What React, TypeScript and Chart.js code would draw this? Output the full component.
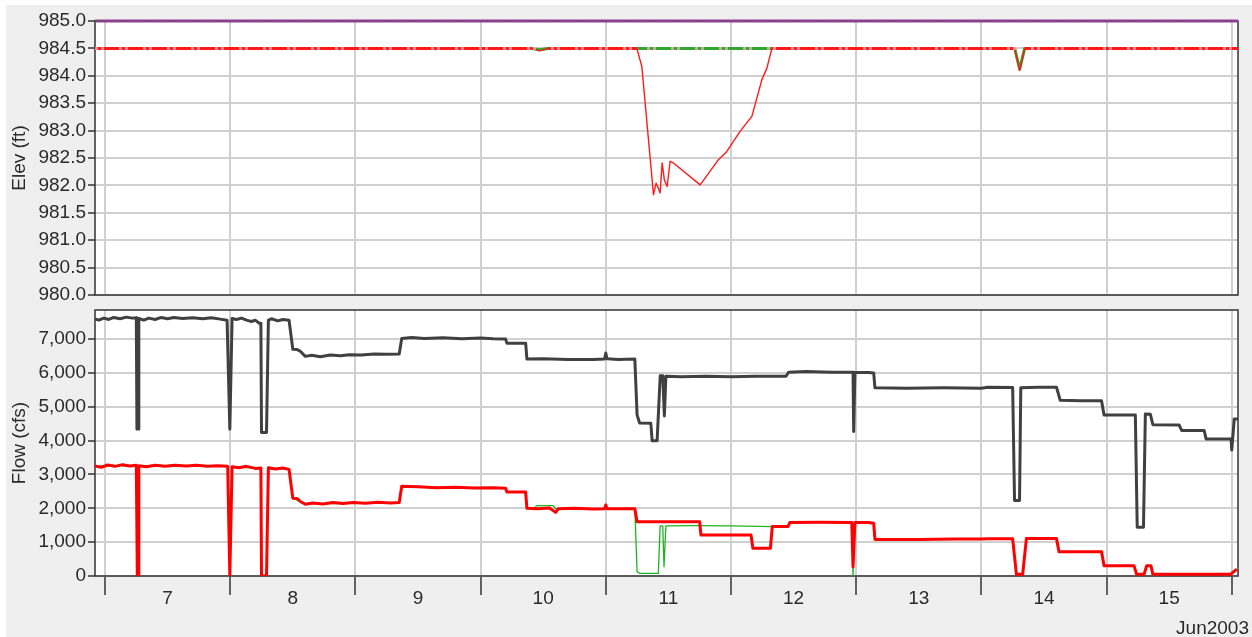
import React, { useEffect, useRef } from 'react';
import { Chart, registerables } from 'chart.js';

Chart.register(...registerables);
Chart.defaults.font.family = "'Liberation Sans', Arial, sans-serif";
Chart.defaults.font.size = 19;
Chart.defaults.color = '#2a2a2a';

// ---- axes ----
const X_MIN = 6.92;
const X_MAX = 16.05;
const DAY_TICKS = [7, 8, 9, 10, 11, 12, 13, 14, 15, 16];
const DAY_LABELS = ['7', '8', '9', '10', '11', '12', '13', '14', '15', ''];
const ELEV_TICKS = [980, 980.5, 981, 981.5, 982, 982.5, 983, 983.5, 984, 984.5, 985];
const FLOW_TICKS = [0, 1000, 2000, 3000, 4000, 5000, 6000, 7000];
const FLOW_MAX = 7860;
const MONTH_LABEL = 'Jun2003';

// ---- elevation panel (day of June, ft) ----
const guideTop: [number, number][] = [[6.92, 985], [16.05, 985]];
const guideMid: [number, number][] = [[6.92, 984.5], [16.05, 984.5]];
const elevRed: [number, number][] = [
  [6.92, 984.5], [10.41, 984.5], [10.47, 984.455], [10.54, 984.5], [11.248, 984.5],
  [11.288, 984.17], [11.381, 981.83], [11.402, 982.04], [11.42, 981.95], [11.434, 981.86],
  [11.45, 982.41], [11.468, 982.1], [11.49, 981.98], [11.514, 982.44], [11.54, 982.41],
  [11.754, 982.01], [11.9, 982.47], [11.967, 982.62], [12.074, 982.99], [12.167, 983.26],
  [12.247, 983.93], [12.287, 984.14], [12.327, 984.5], [14.266, 984.5], [14.306, 984.1],
  [14.346, 984.5], [16.05, 984.5],
];
const elevGreen: [number, number][] = [
  [6.92, 984.5], [10.41, 984.5], [10.47, 984.475], [10.54, 984.5], [14.266, 984.5],
  [14.306, 984.12], [14.346, 984.5], [16.05, 984.5],
];

// ---- flow panel (day of June, cfs) ----
const flowDark: [number, number][] = [
  [6.92, 7600], [6.95, 7560], [6.99, 7620], [7.03, 7580], [7.07, 7640], [7.12, 7600],
  [7.17, 7650], [7.22, 7620], [7.25, 7630], [7.255, 4340], [7.265, 4340], [7.27, 7610],
  [7.31, 7560], [7.35, 7620], [7.4, 7580], [7.45, 7640], [7.5, 7600], [7.55, 7640],
  [7.62, 7610], [7.7, 7630], [7.78, 7600], [7.85, 7630], [7.92, 7590], [7.975, 7560],
  [7.997, 4340], [8.015, 7610], [8.05, 7580], [8.09, 7620], [8.13, 7560], [8.17, 7520],
  [8.2, 7560], [8.23, 7470], [8.245, 7470], [8.25, 4240], [8.29, 4240], [8.305, 7560],
  [8.33, 7600], [8.38, 7540], [8.42, 7580], [8.47, 7560], [8.5, 6700], [8.535, 6690],
  [8.56, 6640], [8.6, 6490], [8.65, 6520], [8.72, 6480], [8.8, 6530], [8.88, 6510],
  [8.95, 6540], [9.05, 6530], [9.15, 6560], [9.25, 6550], [9.35, 6560], [9.37, 7020],
  [9.45, 7050], [9.55, 7020], [9.7, 7040], [9.85, 7010], [10.0, 7030], [10.1, 7010],
  [10.2, 7000], [10.21, 6880], [10.36, 6880], [10.37, 6410], [10.5, 6420], [10.7, 6400],
  [10.9, 6400], [10.99, 6410], [11.0, 6590], [11.01, 6420], [11.1, 6400], [11.232, 6410],
  [11.25, 4760], [11.27, 4520], [11.36, 4510], [11.37, 4000], [11.41, 4000], [11.435, 5920],
  [11.455, 5920], [11.468, 4730], [11.48, 5900], [11.6, 5890], [11.8, 5900], [12.0, 5890],
  [12.2, 5900], [12.44, 5900], [12.46, 6020], [12.6, 6040], [12.8, 6020], [12.975, 6020],
  [12.98, 4270], [12.99, 6010], [13.1, 6010], [13.14, 6000], [13.15, 5560], [13.4, 5550],
  [13.7, 5560], [14.0, 5550], [14.05, 5580], [14.25, 5570], [14.265, 2230], [14.305, 2230],
  [14.315, 5560], [14.45, 5580], [14.6, 5580], [14.63, 5190], [14.8, 5180], [14.96, 5180],
  [14.98, 4760], [15.23, 4760], [15.245, 1440], [15.295, 1440], [15.31, 4790], [15.35, 4780],
  [15.37, 4470], [15.58, 4460], [15.6, 4300], [15.78, 4300], [15.795, 4050], [15.995, 4050],
  [16.0, 3720], [16.02, 4640], [16.05, 4640],
];
const flowRed: [number, number][] = [
  [6.92, 3250], [6.97, 3210], [7.02, 3280], [7.08, 3240], [7.14, 3290], [7.2, 3250],
  [7.25, 3270], [7.258, 0], [7.264, 0], [7.27, 3260], [7.33, 3230], [7.4, 3270],
  [7.48, 3240], [7.56, 3270], [7.65, 3250], [7.73, 3270], [7.82, 3240], [7.9, 3260],
  [7.98, 3240], [7.997, 0], [8.015, 3230], [8.07, 3200], [8.13, 3240], [8.2, 3180],
  [8.245, 3190], [8.25, 0], [8.29, 0], [8.305, 3200], [8.36, 3160], [8.42, 3190],
  [8.47, 3150], [8.5, 2300], [8.535, 2290], [8.56, 2200], [8.6, 2120], [8.66, 2160],
  [8.74, 2130], [8.82, 2170], [8.9, 2140], [8.98, 2170], [9.08, 2150], [9.18, 2180],
  [9.28, 2160], [9.35, 2170], [9.37, 2650], [9.5, 2640], [9.65, 2610], [9.8, 2620],
  [9.95, 2600], [10.1, 2610], [10.2, 2590], [10.21, 2480], [10.36, 2480], [10.37, 2000],
  [10.45, 1990], [10.55, 2010], [10.6, 1880], [10.62, 1990], [10.75, 2000], [10.9, 1980],
  [10.99, 1990], [11.0, 2100], [11.01, 1990], [11.232, 1990], [11.25, 1600], [11.75, 1600],
  [11.76, 1210], [12.16, 1210], [12.175, 820], [12.315, 820], [12.33, 1460], [12.455, 1460],
  [12.47, 1580], [12.7, 1590], [12.965, 1580], [12.975, 270], [12.99, 1580], [13.1, 1580],
  [13.14, 1560], [13.15, 1080], [13.5, 1080], [13.8, 1090], [14.0, 1090], [14.05, 1100],
  [14.25, 1100], [14.28, 50], [14.33, 50], [14.36, 1110], [14.6, 1110], [14.62, 720],
  [14.96, 720], [14.98, 300], [15.22, 300], [15.24, 50], [15.3, 50], [15.32, 300],
  [15.355, 300], [15.37, 50], [15.99, 50], [16.04, 200],
];
const flowGreen: [number, number][] = [
  [6.92, 3250], [7.25, 3260], [7.258, 0], [7.264, 0], [7.27, 3250], [7.98, 3240],
  [7.997, 0], [8.015, 3220], [8.245, 3190], [8.25, 0], [8.29, 0], [8.305, 3190],
  [8.47, 3150], [8.5, 2300], [8.6, 2130], [9.35, 2160], [9.37, 2640], [10.2, 2590],
  [10.21, 2480], [10.36, 2480], [10.37, 2000], [10.43, 2010], [10.45, 2080], [10.58, 2080],
  [10.6, 1990], [11.232, 1990], [11.25, 130], [11.27, 80], [11.42, 80], [11.434, 1480],
  [11.455, 1480], [11.465, 275], [11.48, 1480], [11.7, 1490], [12.0, 1480], [12.33, 1460],
  [12.455, 1460], [12.47, 1580], [12.965, 1580], [12.975, 0], [12.99, 1580], [13.14, 1560],
  [13.15, 1080], [14.25, 1100], [14.28, 50], [14.33, 50], [14.36, 1110], [14.6, 1110],
  [14.62, 720], [14.96, 720], [14.98, 300], [15.22, 300], [15.24, 50], [15.3, 50],
  [15.32, 300], [15.355, 300], [15.37, 50], [15.99, 50], [16.04, 200],
];

const toXY = (arr: [number, number][]) => arr.map(([x, y]) => ({ x, y }));

const W = 1252;
const H = 637;
const AXIS_W = 95;
const RIGHT_PAD = 14;
const TOP_BOTTOM = 295;
const BOT_TOP = 310;
const BOT_BOTTOM = 576;
const HALF_DAY_PX = (W - RIGHT_PAD - AXIS_W) / (X_MAX - X_MIN) / 2;

const framePlugin = {
  id: 'frame',
  beforeDraw(chart: any) {
    const { ctx, chartArea: a } = chart;
    ctx.save();
    ctx.fillStyle = '#ffffff';
    ctx.fillRect(a.left, a.top, a.right - a.left, a.bottom - a.top);
    ctx.restore();
  },
  beforeDatasetsDraw(chart: any) {
    const { ctx, chartArea: a } = chart;
    ctx.save();
    ctx.strokeStyle = '#333';
    ctx.lineWidth = 1.5;
    ctx.strokeRect(a.left, a.top, a.right - a.left, a.bottom - a.top);
    ctx.restore();
  },
};

const monthPlugin = {
  id: 'month',
  afterDraw(chart: any) {
    const { ctx } = chart;
    ctx.save();
    ctx.font = "19px 'Liberation Sans', Arial, sans-serif";
    ctx.fillStyle = '#2a2a2a';
    ctx.textAlign = 'right';
    ctx.textBaseline = 'alphabetic';
    ctx.fillText(MONTH_LABEL, 1249, 634);
    ctx.restore();
  },
};

function xAxis(showLabels: boolean) {
  return {
    type: 'linear',
    min: X_MIN,
    max: X_MAX,
    afterBuildTicks: (axis: any) => {
      axis.ticks = DAY_TICKS.map((v) => ({ value: v }));
    },
    afterFit: (axis: any) => {
      axis.height = showLabels ? H - BOT_BOTTOM : 0;
    },
    border: { display: false },
    grid: {
      color: '#d0d0d0',
      lineWidth: 2,
      drawTicks: showLabels,
      tickLength: 19,
      tickColor: '#333',
      tickWidth: 1.5,
    },
    ticks: {
      display: showLabels,
      autoSkip: false,
      maxRotation: 0,
      labelOffset: HALF_DAY_PX,
      padding: -8,
      color: '#2a2a2a',
      callback: (_v: any, i: number) => DAY_LABELS[i],
    },
  };
}

function yAxis(title: string, min: number, max: number, ticks: number[], fmt: (v: number) => string) {
  return {
    type: 'linear',
    min,
    max,
    afterBuildTicks: (axis: any) => {
      axis.ticks = ticks.map((v) => ({ value: v }));
    },
    afterFit: (axis: any) => {
      axis.width = AXIS_W;
    },
    border: { display: false },
    grid: { color: '#d0d0d0', lineWidth: 2, tickLength: 7, tickColor: '#333', tickWidth: 1.5 },
    ticks: { padding: 2, color: '#2a2a2a', callback: (v: any) => fmt(Number(v)) },
    title: { display: true, text: title, color: '#2a2a2a', font: { size: 19 }, padding: { top: 8, bottom: 0 } },
  };
}

const baseOptions = {
  responsive: false,
  animation: false,
  events: [],
  plugins: { legend: { display: false }, tooltip: { enabled: false } },
  elements: { point: { radius: 0 }, line: { tension: 0, borderJoinStyle: 'round', borderCapStyle: 'butt' } },
};

export default function App() {
  const topRef = useRef<HTMLCanvasElement>(null);
  const botRef = useRef<HTMLCanvasElement>(null);

  useEffect(() => {
    const topChart = new Chart(topRef.current as HTMLCanvasElement, {
      type: 'line',
      data: {
        datasets: [
          { data: toXY(guideTop), borderColor: '#8f3f8f', borderWidth: 3, order: 5, clip: 6 },
          { data: toXY(guideTop), borderColor: 'rgba(90,90,90,0.45)', borderWidth: 2, borderDash: [3, 3, 3, 15], order: 4, clip: 6 },
          { data: toXY(elevGreen), borderColor: '#2fa82f', borderWidth: 3, order: 3 },
          {
            data: toXY(elevRed),
            borderColor: '#ff1a1a',
            borderWidth: 1.4,
            order: 2,
            segment: {
              borderWidth: (c: any) => (c.p0.parsed.y === 984.5 && c.p1.parsed.y === 984.5 ? 3 : 1.4),
            },
          },
          { data: toXY(guideMid), borderColor: 'rgba(255,175,190,0.7)', borderWidth: 3, borderDash: [3, 3, 3, 15], order: 1 },
        ],
      },
      options: {
        ...baseOptions,
        layout: { padding: { left: 0, top: 21, right: RIGHT_PAD, bottom: H - TOP_BOTTOM } },
        scales: {
          x: xAxis(false),
          y: yAxis('Elev (ft)', 980, 985, ELEV_TICKS, (v) => v.toFixed(1)),
        },
      } as any,
      plugins: [framePlugin],
    } as any);

    const botChart = new Chart(botRef.current as HTMLCanvasElement, {
      type: 'line',
      data: {
        datasets: [
          { data: toXY(flowGreen), borderColor: '#1fb41f', borderWidth: 1.3, order: 3 },
          { data: toXY(flowRed), borderColor: '#ff0000', borderWidth: 3, order: 2 },
          { data: toXY(flowDark), borderColor: '#404040', borderWidth: 3, order: 1 },
        ],
      },
      options: {
        ...baseOptions,
        layout: { padding: { left: 0, top: BOT_TOP, right: RIGHT_PAD, bottom: 0 } },
        scales: {
          x: xAxis(true),
          y: yAxis('Flow (cfs)', 0, FLOW_MAX, FLOW_TICKS, (v) => v.toLocaleString('en-US')),
        },
      } as any,
      plugins: [framePlugin, monthPlugin],
    } as any);

    return () => {
      topChart.destroy();
      botChart.destroy();
    };
  }, []);

  return (
    <div style={{ position: 'fixed', left: 0, top: 0, width: W, height: H, background: '#ffffff', overflow: 'hidden' }}>
      <div style={{ position: 'absolute', left: 6, top: 5, width: W - 6, height: H - 5, background: '#efefef' }} />
      <canvas ref={topRef} width={W} height={H} style={{ position: 'absolute', left: 0, top: 0 }} />
      <canvas ref={botRef} width={W} height={H} style={{ position: 'absolute', left: 0, top: 0 }} />
    </div>
  );
}
